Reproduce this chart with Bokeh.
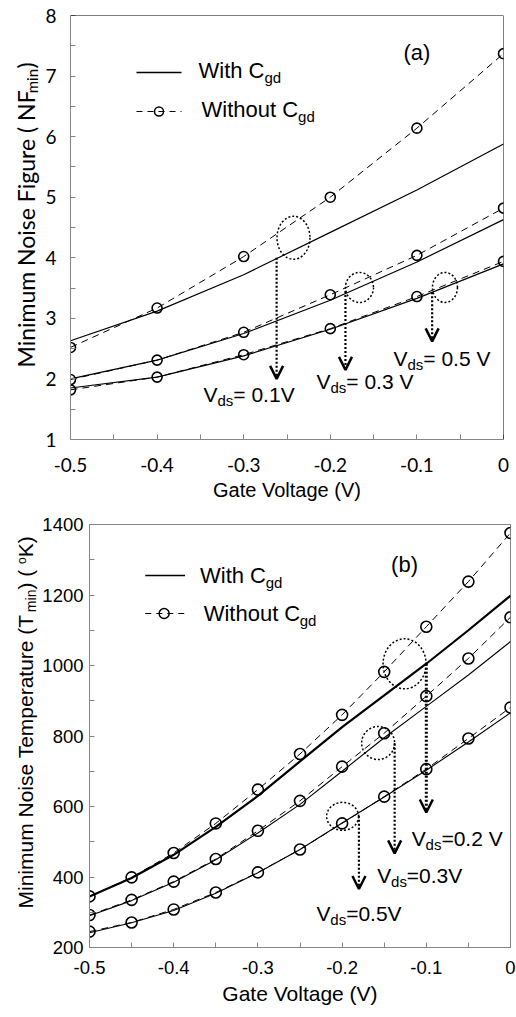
import math
from bokeh.plotting import figure
from bokeh.models import Range1d, FixedTicker, Label, Arrow, OpenHead, Span
from bokeh.layouts import column, row
from bokeh.embed import file_html
from bokeh.resources import INLINE

# ---------------- data: panel (a) ----------------
vg_a = [-0.5, -0.4, -0.3, -0.2, -0.1, 0.0]
nf_with_01 = [2.63, 3.12, 3.72, 4.42, 5.12, 5.88]
nf_wo_01 = [2.52, 3.17, 4.02, 5.00, 6.14, 7.37]
nf_with_03 = [2.00, 2.31, 2.75, 3.30, 3.93, 4.63]
nf_wo_03 = [1.99, 2.31, 2.77, 3.39, 4.04, 4.82]
nf_with_05 = [1.85, 2.03, 2.38, 2.82, 3.33, 3.90]
nf_wo_05 = [1.82, 2.03, 2.40, 2.83, 3.36, 3.94]

# ---------------- data: panel (b) ----------------
vg_b = [-0.5, -0.45, -0.4, -0.35, -0.3, -0.25, -0.2, -0.15, -0.1, -0.05, 0.0]
t_with_02 = [345, 397, 463, 542, 630, 728, 825, 915, 1005, 1100, 1198]
t_wo_02 = [345, 399, 468, 552, 648, 749, 860, 982, 1110, 1238, 1376]
t_with_03 = [290, 333, 385, 449, 525, 606, 700, 795, 884, 973, 1068]
t_wo_03 = [292, 335, 387, 451, 531, 616, 713, 808, 913, 1020, 1137]
t_with_05 = [242, 270, 305, 354, 412, 478, 553, 627, 703, 783, 866]
t_wo_05 = [245, 271, 308, 356, 413, 478, 552, 628, 706, 793, 881]

# ---------------- ticks ----------------
x_ticks = [-0.5, -0.4, -0.3, -0.2, -0.1, 0.0]
x_tick_labels = ["-0.5", "-0.4", "-0.3", "-0.2", "-0.1", "0"]
x_minor = [-0.45, -0.35, -0.25, -0.15, -0.05]
ya_ticks = [1, 2, 3, 4, 5, 6, 7, 8]
ya_minor = [1.5, 2.5, 3.5, 4.5, 5.5, 6.5, 7.5]
yb_ticks = [200, 400, 600, 800, 1000, 1200, 1400]
yb_minor = [300, 500, 700, 900, 1100, 1300]

GRAY = "#868686"
ARIAL_F = "Liberation Sans"
CAL_F = "Lato"
MID = 0.35  # distance (em) from alphabetic baseline to text middle

ARIAL = {' ': .278, '(': .333, ')': .333, '=': .584, '.': .278, '-': .333,
         'C': .722, 'F': .611, 'G': .778, 'K': .667, 'M': .833, 'N': .722,
         'T': .611, 'V': .667, 'W': .944, 'a': .556, 'b': .556, 'd': .556,
         'e': .556, 'g': .556, 'h': .556, 'i': .222, 'l': .222, 'm': .833,
         'n': .556, 'o': .556, 'p': .556, 'r': .333, 's': .5, 't': .278,
         'u': .556}
for _d in "0123456789":
    ARIAL[_d] = .556
LATO = {' ': .193, '(': .295, ')': .295, 'M': .914, 'N': .759, 'F': .558,
        'i': .24, 'n': .562, 'm': .849, 'u': .562, 'o': .574, 's': .431,
        'e': .531, 'g': .512, 'r': .386}


def tw(s, size, table):
    return sum(table.get(c, 0.55) for c in s) * size


class Frame:
    """Maps page pixel coordinates to the data coordinates of a figure frame."""
    def __init__(self, p, left, right, top, bottom, xr, yr):
        self.p, self.l, self.r, self.t, self.b = p, left, right, top, bottom
        self.xr, self.yr = xr, yr

    def dx(self, px):
        return self.xr[0] + (px - self.l) / (self.r - self.l) * (self.xr[1] - self.xr[0])

    def dy(self, py):
        return self.yr[0] + (self.b - py) / (self.b - self.t) * (self.yr[1] - self.yr[0])


def lab(fr, px, py, text, size, font, align="left", angle=0.0):
    fr.p.add_layout(Label(x=fr.dx(px), y=fr.dy(py), text=text, text_font=font,
                          text_font_size=f"{size}px", text_align=align,
                          text_baseline="middle", angle=angle, text_color="black"))


def rich(fr, px, py, parts, font, table, angle=0.0):
    """Text with sub/superscripts. (px, py) = start of the main baseline."""
    ax, ay = math.cos(angle), -math.sin(angle)
    nx, ny = math.sin(angle), math.cos(angle)
    cx, cy = px, py
    for text, size, shift in parts:
        off = shift - MID * size
        lab(fr, cx + nx * off, cy + ny * off, text, size, font, angle=angle)
        w = tw(text, size, table)
        cx += ax * w
        cy += ay * w


def make_fig(width, height, left, right, top, bottom, xr, yr):
    p = figure(width=width, height=height, output_backend="svg", toolbar_location=None,
               x_range=Range1d(*xr), y_range=Range1d(*yr),
               min_border_left=left, min_border_right=right,
               min_border_top=top, min_border_bottom=bottom)
    p.grid.visible = False
    p.background_fill_color = "white"
    p.border_fill_color = "white"
    for ax in (p.xaxis[0], p.yaxis[0]):
        ax.axis_line_color = GRAY
        ax.major_tick_line_color = GRAY
        ax.minor_tick_line_color = GRAY
        ax.major_tick_in = 5
        ax.major_tick_out = 0
        ax.minor_tick_in = 5
        ax.minor_tick_out = 0
        ax.major_label_text_color = "black"
    return p


def strip_fig(width, height, top_border, bottom_border, page_top):
    """Blank side figure; its frame shares the main frame's vertical extent."""
    fh = height - top_border - bottom_border
    s = figure(width=width, height=height, output_backend="svg", toolbar_location=None,
               x_axis_location=None, y_axis_location=None,
               x_range=Range1d(0, width), y_range=Range1d(0, fh),
               min_border_left=0, min_border_right=0,
               min_border_top=top_border, min_border_bottom=bottom_border)
    s.grid.visible = False
    s.outline_line_color = None
    s.background_fill_color = "white"
    s.border_fill_color = "white"
    return Frame(s, 0, width, page_top + top_border, page_top + top_border + fh,
                 (0, width), (0, fh))


def style_axes(p, yt, ym, font, size, xstand, ystand, xtitle, tsize, tstand):
    p.xaxis.ticker = FixedTicker(ticks=x_ticks, minor_ticks=x_minor)
    p.xaxis.major_label_overrides = dict(zip(x_ticks, x_tick_labels))
    p.yaxis.ticker = FixedTicker(ticks=yt, minor_ticks=ym)
    for ax in (p.xaxis[0], p.yaxis[0]):
        ax.major_label_text_font = font
        ax.major_label_text_font_size = size
    p.xaxis.major_label_standoff = xstand
    p.yaxis.major_label_standoff = ystand
    p.xaxis.axis_label = xtitle
    p.xaxis.axis_label_text_font = ARIAL_F
    p.xaxis.axis_label_text_font_style = "normal"
    p.xaxis.axis_label_text_font_size = tsize
    p.xaxis.axis_label_text_color = "black"
    p.xaxis.axis_label_standoff = tstand


# =============== panel (a) ===============
SA = 42
p1 = make_fig(516 - SA, 510, 70 - SA, 13, 15, 71, (-0.5, 0.0), (1, 8))
style_axes(p1, ya_ticks, ya_minor, CAL_F, "19px", 18, 14, "Gate Voltage (V)", "20px", 4)
p1.outline_line_color = None
p1.add_layout(Span(location=8, dimension="width", line_color="black", line_width=1))
p1.add_layout(Span(location=0, dimension="height", line_color="black", line_width=1))
fa = Frame(p1, 70, 503, 15, 439, (-0.5, 0.0), (1, 8))

for ys in (nf_with_01, nf_with_03, nf_with_05):
    p1.line(vg_a, ys, line_color="black", line_width=1.2)
for ys in (nf_wo_01, nf_wo_03, nf_wo_05):
    p1.line(vg_a, ys, line_color="black", line_width=1, line_dash="7 5")
    p1.scatter(vg_a, ys, marker="circle", size=10, fill_color=None,
               line_color="black", line_width=1.6)

p1.ellipse(x=[-0.2425, -0.1663, -0.0676], y=[4.33, 3.51, 3.51],
           width=[33, 28, 25], height=[43, 30, 30],
           width_units="screen", height_units="screen",
           fill_color=None, line_color="black", line_dash="2 2", line_width=1.5)
for xa, y0, y1 in ((-0.262, 4.0, 2.0), (-0.1825, 3.45, 2.15), (-0.0824, 3.43, 2.62)):
    p1.add_layout(Arrow(end=OpenHead(size=13, line_width=2.5, line_color="black"),
                        x_start=xa, y_start=y0, x_end=xa, y_end=y1,
                        line_color="black", line_width=2.2, line_dash="2 2"))

p1.line([fa.dx(136), fa.dx(181)], [fa.dy(72), fa.dy(72)], line_color="black", line_width=1.3)
p1.line([fa.dx(136), fa.dx(181)], [fa.dy(111), fa.dy(111)], line_color="black",
        line_width=1.2, line_dash="6 5")
p1.scatter([fa.dx(158.5)], [fa.dy(111)], marker="circle", size=9, fill_color=None,
           line_color="black", line_width=1.5)
rich(fa, 198, 78, [("With C", 22, 0), ("gd", 15, 4)], ARIAL_F, ARIAL)
rich(fa, 201, 117, [("Without C", 22, 0), ("gd", 15, 4)], ARIAL_F, ARIAL)
rich(fa, 403, 60, [("(a)", 22, 0)], ARIAL_F, ARIAL)

rich(fa, 203, 401.7, [("V", 21, 0), ("ds", 15, 4), (" = 0.1V", 21, 0)], ARIAL_F, ARIAL)
rich(fa, 316, 388, [("V", 21, 0), ("ds", 15, 4), (" = 0.3 V", 21, 0)], ARIAL_F, ARIAL)
rich(fa, 393, 365, [("V", 21, 0), ("ds", 15, 4), (" = 0.5 V", 21, 0)], ARIAL_F, ARIAL)

ta = strip_fig(SA, 510, 15, 71, 0)
rich(ta, 34, 367, [("Minimum Noise Figure ( NF", 23, 0), ("min", 15, 3), (" )", 23, 0)],
     CAL_F, LATO, angle=math.pi / 2)

# =============== panel (b) ===============
SB = 39
p2 = make_fig(516 - SB, 507, 87 - SB, 6, 14, 70, (-0.5, 0.0), (200, 1400))
style_axes(p2, yb_ticks, yb_minor, ARIAL_F, "18.5px", 13, 6, "Gate Voltage (V)", "21px", 5)
p2.outline_line_color = GRAY
fb = Frame(p2, 87, 510, 524, 947, (-0.5, 0.0), (200, 1400))

p2.line(vg_b, t_with_02, line_color="black", line_width=2.2)
for ys in (t_with_03, t_with_05):
    p2.line(vg_b, ys, line_color="black", line_width=1.1)
for ys in (t_wo_02, t_wo_03, t_wo_05):
    p2.line(vg_b, ys, line_color="black", line_width=1, line_dash="7 5")
    p2.scatter(vg_b, ys, marker="circle", size=11, fill_color=None,
               line_color="black", line_width=1.6)

p2.ellipse(x=[-0.1258, -0.1572, -0.1994], y=[1004.7, 780, 572],
           width=[43, 33, 32], height=[50, 33, 28],
           width_units="screen", height_units="screen",
           fill_color=None, line_color="black", line_dash="2 2", line_width=1.5)
for xa, y0, y1, lw in ((-0.1, 1005, 583, 3.0), (-0.1376, 778, 467, 2.2), (-0.180, 574, 366, 2.2)):
    p2.add_layout(Arrow(end=OpenHead(size=13, line_width=2.5, line_color="black"),
                        x_start=xa, y_start=y0, x_end=xa, y_end=y1,
                        line_color="black", line_width=lw, line_dash="2 2"))

p2.line([fb.dx(143), fb.dx(183)], [fb.dy(575), fb.dy(575)], line_color="black", line_width=1.3)
p2.line([fb.dx(143), fb.dx(183)], [fb.dy(613), fb.dy(613)], line_color="black",
        line_width=1.2, line_dash="6 5")
p2.scatter([fb.dx(162)], [fb.dy(613)], marker="circle", size=10, fill_color=None,
           line_color="black", line_width=1.5)
rich(fb, 198, 583, [("With C", 22, 0), ("gd", 15, 4)], ARIAL_F, ARIAL)
rich(fb, 201.7, 621, [("Without C", 22, 0), ("gd", 15, 4)], ARIAL_F, ARIAL)
rich(fb, 390, 572, [("(b)", 22, 0)], ARIAL_F, ARIAL)

rich(fb, 410.7, 845, [("V", 21, 0), ("ds", 15, 4), ("=0.2 V", 21, 0)], ARIAL_F, ARIAL)
rich(fb, 376, 882.7, [("V", 21, 0), ("ds", 15, 4), ("=0.3V", 21, 0)], ARIAL_F, ARIAL)
rich(fb, 315, 920, [("V", 21, 0), ("ds", 15, 4), ("=0.5V", 21, 0)], ARIAL_F, ARIAL)

tb = strip_fig(SB, 507, 14, 70, 510)
rich(tb, 32.5, 908, [("Minimum Noise Temperature (T", 21, 0), ("min", 14, 3), (" ) (", 21, 0),
                     ("o", 12, -7), ("K)", 21, 0)], ARIAL_F, ARIAL, angle=math.pi / 2)

layout = column(row(ta.p, p1), row(tb.p, p2))
open("out.html", "w").write(file_html(layout, INLINE, title="Noise figure"))
